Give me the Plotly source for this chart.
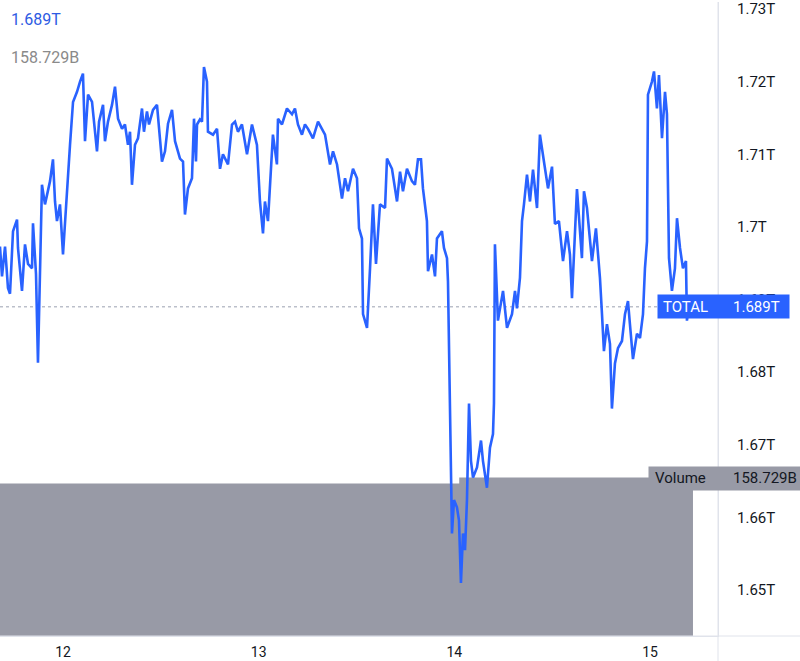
import plotly.graph_objects as go

# Time in hours relative to day 12 00:00
hours = [-7.73, -7.48, -7.11, -6.75, -6.50, -6.13, -5.64, -5.52, -5.03, -4.66,
         -4.29, -3.80, -3.68, -3.31, -3.07, -2.82, -2.58, -2.21, -1.84, -1.59,
         -1.23, -0.98, -0.74, -0.37, 0.00, 0.49, 0.86, 1.23, 1.72, 2.09,
         2.45, 2.70, 3.07, 3.56, 3.80, 4.17, 4.42, 4.91, 5.15, 5.52,
         6.01, 6.38, 6.75, 7.24, 7.60, 7.97, 8.22, 8.46, 8.83, 9.20,
         9.69, 9.93, 10.30, 10.55, 11.04, 11.53, 12.14, 12.51, 12.88, 13.37,
         13.74, 14.35, 14.72, 14.96, 15.33, 15.82, 16.07, 16.31, 16.44, 16.80,
         17.05, 17.29, 17.66, 17.78, 18.40, 18.89, 19.26, 19.62, 20.24, 20.73,
         21.10, 21.46, 21.95, 22.57, 23.18, 23.79, 24.16, 24.53, 24.77, 25.14,
         25.75, 26.24, 26.37, 26.86, 27.47, 28.09, 28.45, 28.82, 29.31, 29.68,
         30.05, 30.66, 31.28, 31.77, 32.14, 32.75, 33.12, 33.61, 34.22, 34.59,
         34.96, 35.57, 36.06, 36.31, 36.67, 36.80, 37.29, 37.66, 38.02, 38.39,
         38.88, 39.50, 39.74, 40.35, 40.97, 41.34, 41.70, 42.19, 42.80, 43.17,
         43.54, 43.91, 44.15, 44.64, 44.77, 45.26, 45.63, 45.87, 46.48, 46.73,
         47.10, 47.22, 47.47, 47.59, 47.71, 47.96, 48.32, 48.57, 48.81, 49.06,
         49.31, 49.55, 49.80, 50.04, 50.29, 50.78, 51.27, 51.51, 52.00, 52.37,
         52.74, 52.86, 52.98, 53.35, 53.97, 54.46, 55.07, 55.44, 55.68, 56.05,
         56.30, 56.54, 56.91, 57.28, 57.65, 58.14, 58.50, 58.99, 59.49, 59.98,
         60.34, 60.83, 61.33, 61.82, 62.18, 62.43, 62.80, 63.04, 63.65, 63.90,
         64.27, 64.88, 65.37, 65.86, 66.11, 66.35, 66.72, 67.09, 67.33, 67.70,
         68.07, 68.56, 68.93, 69.30, 69.54, 69.91, 70.40, 70.77, 71.14, 71.38,
         71.63, 71.75, 72.24, 72.49, 72.85, 73.10, 73.47, 73.84, 74.08, 74.33,
         74.69, 75.06, 75.31, 75.68, 76.04, 76.41, 76.53, 76.78, 76.90]

# Total crypto market cap, trillions USD
total_cap = [1.6973, 1.6932, 1.6973, 1.6916, 1.6908, 1.6994, 1.7010, 1.6971, 1.6912, 1.6976,
             1.6949, 1.6943, 1.7005, 1.6935, 1.6813, 1.6967, 1.7058, 1.7031, 1.7053, 1.7063,
             1.7093, 1.7035, 1.7008, 1.7031, 1.6962, 1.7053, 1.7113, 1.7172, 1.7186, 1.7200,
             1.7211, 1.7118, 1.7182, 1.7172, 1.7141, 1.7104, 1.7145, 1.7168, 1.7118, 1.7145,
             1.7168, 1.7193, 1.7149, 1.7135, 1.7141, 1.7113, 1.7131, 1.7058, 1.7113, 1.7122,
             1.7163, 1.7131, 1.7159, 1.7141, 1.7161, 1.7168, 1.7090, 1.7104, 1.7142, 1.7161,
             1.7118, 1.7094, 1.7090, 1.7017, 1.7053, 1.7067, 1.7149, 1.7090, 1.7141, 1.7148,
             1.7145, 1.7220, 1.7200, 1.7131, 1.7127, 1.7135, 1.7080, 1.7100, 1.7086, 1.7141,
             1.7145, 1.7131, 1.7141, 1.7100, 1.7141, 1.7113, 1.7035, 1.6991, 1.7035, 1.7008,
             1.7127, 1.7086, 1.7149, 1.7141, 1.7163, 1.7155, 1.7163, 1.7141, 1.7127, 1.7141,
             1.7135, 1.7122, 1.7145, 1.7135, 1.7127, 1.7086, 1.7104, 1.7086, 1.7039, 1.7067,
             1.7049, 1.7080, 1.7067, 1.6998, 1.6984, 1.6880, 1.6861, 1.6943, 1.7031, 1.6949,
             1.7031, 1.7026, 1.7094, 1.7080, 1.7035, 1.7076, 1.7049, 1.7080, 1.7063, 1.7058,
             1.7093, 1.7093, 1.7053, 1.7008, 1.6939, 1.6962, 1.6932, 1.6984, 1.6994, 1.6971,
             1.6957, 1.6925, 1.6761, 1.6624, 1.6578, 1.6624, 1.6614, 1.6596, 1.6510, 1.6578,
             1.6555, 1.6624, 1.6757, 1.6678, 1.6655, 1.6669, 1.6706, 1.6678, 1.6641, 1.6696,
             1.6715, 1.6757, 1.6976, 1.6871, 1.6912, 1.6861, 1.6880, 1.6912, 1.6888, 1.6930,
             1.7008, 1.7031, 1.7072, 1.7035, 1.7079, 1.7026, 1.7127, 1.7090, 1.7053, 1.7083,
             1.7004, 1.7008, 1.6953, 1.6994, 1.6962, 1.6902, 1.6998, 1.7052, 1.6957, 1.7049,
             1.7026, 1.6953, 1.6998, 1.6930, 1.6880, 1.6829, 1.6866, 1.6839, 1.6750, 1.6812,
             1.6833, 1.6843, 1.6880, 1.6898, 1.6866, 1.6818, 1.6853, 1.6847, 1.6880, 1.6943,
             1.6980, 1.7182, 1.7200, 1.7214, 1.7163, 1.7209, 1.7122, 1.7186, 1.7155, 1.6957,
             1.6912, 1.6943, 1.7012, 1.6971, 1.6943, 1.6953, 1.6871, 1.6890]

# Volume (billions USD), step levels
vol_hours = [-9.0, 48.6, 77.27]
vol_values = [152.7, 158.729, 158.729]

day_ticks = [0, 24, 48, 72]
day_labels = ["12", "13", "14", "15"]
price_ticks = [1.65, 1.66, 1.67, 1.68, 1.69, 1.70, 1.71, 1.72, 1.73]
price_labels = ["1.65T", "1.66T", "1.67T", "1.68T", "1.69T", "1.7T", "1.71T", "1.72T", "1.73T"]

last_price = 1.689
last_price_label = "1.689T"
last_volume_label = "158.729B"

BLUE = "#2962ff"
VOLGRAY = "#989aa6"
FONT = "Roboto"

fig = go.Figure()

fig.add_trace(go.Scatter(
    x=vol_hours, y=vol_values, mode="lines", line=dict(width=0, shape="hv"),
    fill="tozeroy", fillcolor=VOLGRAY, yaxis="y", hoverinfo="skip", showlegend=False))

fig.add_trace(go.Scatter(
    x=hours, y=total_cap, mode="lines", line=dict(color=BLUE, width=2.6),
    yaxis="y2", showlegend=False))

fig.update_layout(
    width=800, height=661,
    margin=dict(l=0, r=82, t=0, b=25),
    paper_bgcolor="white", plot_bgcolor="white",
    font=dict(family=FONT, size=14, color="#131722"),
    xaxis=dict(range=[-7.727, 80.34], tickvals=day_ticks, ticktext=day_labels,
               showgrid=False, zeroline=False, showline=True, linecolor="#e0e3eb",
               ticks="", ticklabelstandoff=3, ticklabeloverflow="allow",
               tickfont=dict(size=14, color="#131722")),
    yaxis=dict(visible=False, range=[0, 635], fixedrange=True),
    yaxis2=dict(overlaying="y", side="right", range=[1.64369, 1.73096],
                tickvals=price_ticks, ticktext=price_labels, showgrid=False,
                zeroline=False, showline=True, linecolor="#e0e3eb", ticks="",
                ticklabelstandoff=15, ticklabeloverflow="allow",
                tickfont=dict(size=15, color="#131722")),
)

shapes = [
    dict(type="line", xref="paper", yref="y2", x0=0, x1=1, y0=last_price, y1=last_price,
         line=dict(color="#9aa0b0", width=1, dash="dot"), layer="below"),
    dict(type="line", xref="paper", yref="paper", x0=1, x1=1, y0=-0.04, y1=1,
         line=dict(color="#e0e3eb", width=1)),
    dict(type="line", xref="paper", yref="paper", x0=0, x1=1.12, y0=0, y1=0,
         line=dict(color="#e0e3eb", width=1)),
]
fig.update_layout(shapes=shapes)

annotations = [
    # top-left legend values
    dict(xref="paper", yref="paper", x=0.012, y=0.972, xanchor="left", yanchor="middle",
         text=last_price_label, showarrow=False, font=dict(size=16, color="#2d5be3")),
    dict(xref="paper", yref="paper", x=0.012, y=0.912, xanchor="left", yanchor="middle",
         text=last_volume_label, showarrow=False, font=dict(size=16, color="#8a8a8a")),
    # TOTAL price label box
    dict(xref="paper", yref="y2", x=657 / 718, y=last_price, xanchor="left", yanchor="middle",
         text="", showarrow=False, bgcolor=BLUE, width=129, height=21),
    dict(xref="paper", yref="y2", x=661 / 718, y=last_price, xanchor="left", yanchor="middle",
         text="TOTAL", showarrow=False, font=dict(size=15, color="white")),
    dict(xref="paper", yref="y2", x=731 / 718, y=last_price, xanchor="left", yanchor="middle",
         text=last_price_label, showarrow=False, font=dict(size=15, color="white")),
    # Volume label box
    dict(xref="paper", yref="paper", x=648 / 718, y=(636 - 478) / 636, xanchor="left",
         yanchor="middle", text="", showarrow=False, bgcolor=VOLGRAY, width=156, height=21),
    dict(xref="paper", yref="paper", x=653 / 718, y=(636 - 478) / 636, xanchor="left",
         yanchor="middle", text="Volume", showarrow=False, font=dict(size=15, color="#131722")),
    dict(xref="paper", yref="paper", x=731 / 718, y=(636 - 478) / 636, xanchor="left",
         yanchor="middle", text=last_volume_label, showarrow=False,
         font=dict(size=15, color="#131722")),
]
fig.update_layout(annotations=annotations)

fig.write_html("out.html", config={"displayModeBar": False},
               post_script="document.body.style.margin='0';document.body.style.overflow='hidden';")
